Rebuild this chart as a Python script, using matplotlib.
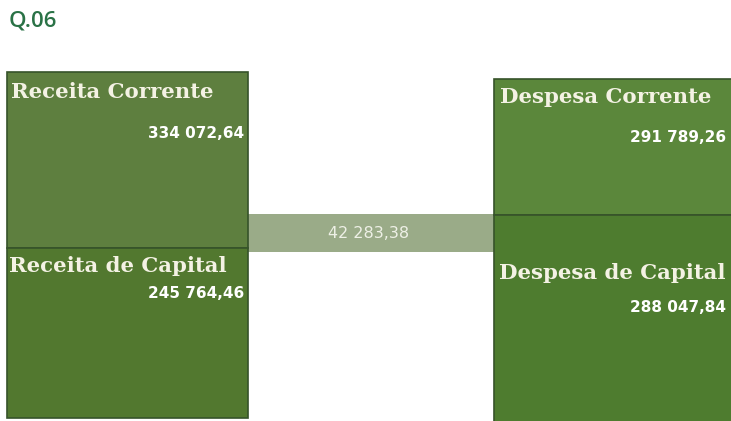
import matplotlib.pyplot as plt
from matplotlib.patches import Rectangle

# chart data
receita_labels = ['Receita Corrente', 'Receita de Capital']
receita_values = ['334 072,64', '245 764,46']
despesa_labels = ['Despesa Corrente', 'Despesa de Capital']
despesa_values = ['291 789,26', '288 047,84']
saldo_value = '42 283,38'
title = 'Q.06'

# layout in pixels: (x0, y0, width, height)
receita_boxes = [(7, 72, 241, 176), (7, 248, 241, 170)]
despesa_boxes = [(494, 79, 240, 136), (494, 215, 240, 210)]
saldo_box = (248, 214, 246, 38)
# label / value anchor points (x, y)
receita_label_pos = [(11, 92), (9, 266)]
receita_value_pos = [(244, 133), (244, 294)]
despesa_label_pos = [(500, 97), (499, 273)]
despesa_value_pos = [(726, 138), (726, 307)]

receita_colors = ['#5e7f3f', '#52782f']
despesa_colors = ['#5b873b', '#4e7c2f']
saldo_color = '#9aab88'
text_color = '#f4f2e4'


def draw_box(ax, box, color, label, value, label_pos, value_pos):
    x0, y0, w, h = box
    ax.add_patch(Rectangle((x0, y0), w, h, facecolor=color,
                           edgecolor='#36532a', linewidth=1.2))
    ax.text(label_pos[0], label_pos[1], label, family='DejaVu Serif',
            fontweight='bold', fontsize=15.3, color=text_color,
            ha='left', va='center')
    ax.text(value_pos[0], value_pos[1], value, family='DejaVu Sans',
            fontweight='bold', fontsize=11, color='white',
            ha='right', va='center')


fig = plt.figure(figsize=(7.31, 4.21), dpi=100)
ax = fig.add_axes([0, 0, 1, 1])
ax.set_xlim(0, 731)
ax.set_ylim(421, 0)
ax.axis('off')

ax.text(9, 21, title, family='Open Sans', fontsize=16, fontweight='semibold',
        color='#2a7246', ha='left', va='center')

sx, sy, sw, sh = saldo_box
ax.add_patch(Rectangle((sx, sy), sw, sh, facecolor=saldo_color,
                       edgecolor='none'))
ax.text(sx + sw / 2 - 2, sy + sh / 2, saldo_value, family='DejaVu Sans',
        fontsize=11.5, color='#eef0e6', ha='center', va='center')

for box, color, label, value, lp, vp in zip(receita_boxes, receita_colors,
                                            receita_labels, receita_values,
                                            receita_label_pos, receita_value_pos):
    draw_box(ax, box, color, label, value, lp, vp)

for box, color, label, value, lp, vp in zip(despesa_boxes, despesa_colors,
                                            despesa_labels, despesa_values,
                                            despesa_label_pos, despesa_value_pos):
    draw_box(ax, box, color, label, value, lp, vp)

fig.savefig('out.png', dpi=100)
